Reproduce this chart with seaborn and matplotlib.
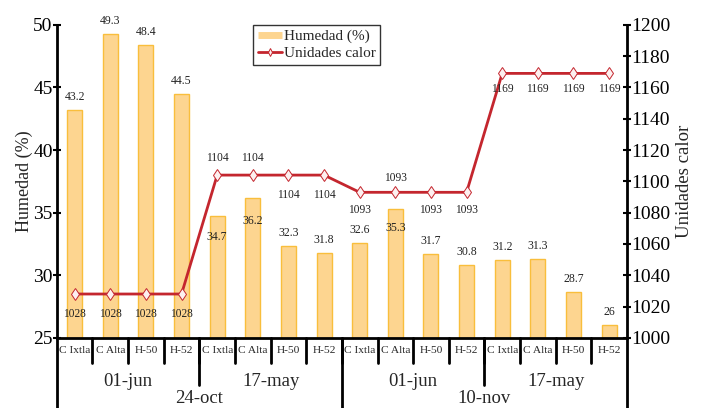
import pandas as pd
import numpy as np
import matplotlib
matplotlib.use("Agg")
import matplotlib.pyplot as plt
import seaborn as sns
from matplotlib.lines import Line2D

## ---------------- datos ----------------
variedades = ["C Ixtla", "C Alta", "H-50", "H-52"] * 4
siembra = ["01-jun", "17-may", "01-jun", "17-may"]
cosecha = ["24-oct", "10-nov"]
humedad = [43.2, 49.3, 48.4, 44.5, 34.7, 36.2, 32.3, 31.8,
           32.6, 35.3, 31.7, 30.8, 31.2, 31.3, 28.7, 26.0]
unidades_calor = [1028, 1028, 1028, 1028, 1104, 1104, 1104, 1104,
                  1093, 1093, 1093, 1093, 1169, 1169, 1169, 1169]

df = pd.DataFrame({
    "id": [f"c{i}" for i in range(len(variedades))],
    "variedad": variedades,
    "humedad": humedad,
    "uc": unidades_calor,
})
df["pos"] = np.arange(len(df))

## desplazamientos de las etiquetas (pixeles)
off_bar = [13, 13, 13, 13, -21, -23, 13, 13, 13, -19, 13, 13, 13, 13, 13, 13]
off_uc = [-20, -20, -20, -20, 17, 17, -20, -20, -18, 14, -18, -18, -16, -16, -16, -16]

sns.set_theme(style="white")
plt.rcParams["font.family"] = ["Liberation Serif", "DejaVu Serif"]

c_bar = "#FDD590"
c_edge = "#F9BE3C"
c_line = "#C4262E"

fig = plt.figure(figsize=(7.02, 4.08), dpi=100)
ax = fig.add_axes([0.081, 0.172, 0.812, 0.767])

sns.barplot(data=df, x="id", y="humedad", ax=ax, color=c_bar, width=0.42,
            edgecolor=c_edge, linewidth=1, saturation=1)
ax.set_ylim(25, 50)
ax.set_xlim(-0.5, 15.5)
ax.set_yticks([25, 30, 35, 40, 45, 50])
ax.set_ylabel("Humedad (%)", fontsize=13, labelpad=0)
ax.set_xlabel("")
ax.set_xticks([])

ax2 = ax.twinx()
sns.lineplot(data=df, x="pos", y="uc", ax=ax2, color=c_line, linewidth=2,
             marker="d", markersize=6, markerfacecolor="#FDF0F0",
             markeredgecolor=c_line, markeredgewidth=0.7)
ax2.set_ylim(1000, 1200)
ax2.set_yticks(range(1000, 1201, 20))
ax2.set_ylabel("Unidades calor", fontsize=13.5, labelpad=4)
ax2.set_xlabel("")
ax.set_xlim(-0.5, 15.5)

for a in (ax, ax2):
    for s in a.spines.values():
        s.set_visible(False)
    a.tick_params(axis="y", direction="inout", length=6, width=1.5,
                  labelsize=14, pad=0, colors="black")
    a.grid(False)
ax.spines["left"].set_visible(True)
ax.spines["left"].set_linewidth(2)
ax.spines["left"].set_color("black")
ax.spines["bottom"].set_visible(True)
ax.spines["bottom"].set_linewidth(2)
ax.spines["bottom"].set_color("black")
ax2.spines["right"].set_visible(True)
ax2.spines["right"].set_linewidth(2)
ax2.spines["right"].set_color("black")
ax2.tick_params(axis="y", left=False, right=True)

## etiquetas de valores
for i, v in enumerate(humedad):
    ax.annotate(f"{v:g}", (i, v), xytext=(0, off_bar[i]), textcoords="offset pixels",
                ha="center", va="center", fontsize=8.5, color="#222222")
for i, v in enumerate(unidades_calor):
    ax2.annotate(f"{v}", (i, v), xytext=(0, off_uc[i]), textcoords="offset pixels",
                 ha="center", va="center", fontsize=8.3, color="#222222")

## eje x jerarquico
tr = ax.get_xaxis_transform()
for i, lab in enumerate(variedades):
    ax.text(i, -0.04, lab, transform=tr, ha="center", va="center", fontsize=8.2)
for b in np.arange(0.5, 15, 1):
    ax.plot([b, b], [0, -0.08], transform=tr, color="black", lw=2, clip_on=False)
for k, lab in enumerate(siembra):
    ax.text(4 * k + 1.5, -0.14, lab, transform=tr, ha="center", va="center", fontsize=13.5)
for b in [3.5, 11.5]:
    ax.plot([b, b], [0, -0.15], transform=tr, color="black", lw=2, clip_on=False)
for k, lab in enumerate(cosecha):
    ax.text(8 * k + 3.5, -0.195, lab, transform=tr, ha="center", va="center", fontsize=13.5)
for b in [-0.5, 7.5, 15.5]:
    ax.plot([b, b], [0, -0.25], transform=tr, color="black", lw=2, clip_on=False)

## leyenda
handles = [Line2D([], [], color=c_bar, lw=5, solid_capstyle="butt"),
           Line2D([], [], color=c_line, lw=2, marker="d", markersize=4,
                  markerfacecolor="#FDF0F0", markeredgecolor=c_line, markeredgewidth=0.7)]
leg = ax2.legend(handles, ["Humedad (%)", "Unidades calor"], loc="upper left",
                 bbox_to_anchor=(0.344, 1.0), fontsize=11, frameon=True, fancybox=False,
                 handlelength=1.6, handletextpad=0.1, borderpad=0.3, labelspacing=0.2,
                 borderaxespad=0)
leg.get_frame().set_edgecolor("black")
leg.get_frame().set_linewidth(1)

fig.savefig("out.png", dpi=100)
